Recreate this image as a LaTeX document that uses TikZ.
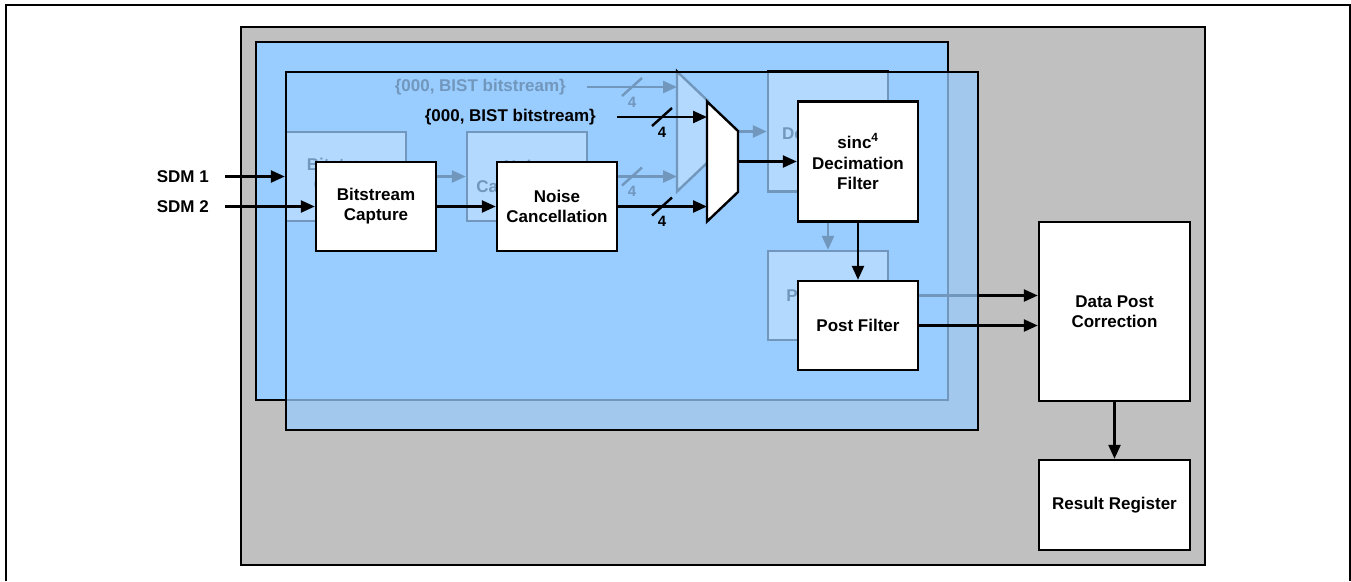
\documentclass[tikz,border=0pt]{standalone}
\usepackage{fontspec}
\setmainfont{Liberation Sans}
\usetikzlibrary{arrows.meta}
\definecolor{panelblue}{HTML}{99CCFF}
\definecolor{casegray}{HTML}{C0C0C0}

% one copy of the capture / filter chain, names start with #1
\newcommand\filterchain[1]{%
  \node[block] (#1bc) at (376,206.5) {Bitstream\\Capture};
  \node[block] (#1nc) at (557,206.5) {Noise\\Cancellation};
  \node[block, minimum height=120pt] (#1dec) at (858,161.5) {sinc\textsuperscript{4}\\[1pt]Decimation\\Filter};
  \node[block] (#1pf) at (858,325.5) {Post Filter};
  \draw[fill=white] (707,101.5) -- (738,131) -- (738,192) -- (707,221.5) -- cycle;
  \coordinate (#1muxa) at (707,117);
  \coordinate (#1muxb) at (707,206.5);
  \coordinate (#1muxo) at (738,161.5);
  \node[anchor=east, inner sep=0pt] (#1bist) at (597,117) {\{000, BIST bitstream\}};
  \coordinate (#1bisto) at (617,117);
  \draw[->] (#1bc) -- (#1nc);
  \draw[->] (#1bisto) -- (#1muxa);
  \draw[->] (#1nc) -- (#1muxb);
  \draw[->] (#1muxo) -- (#1dec);
  \draw[->] (#1dec) -- (#1pf);
  \foreach \y/\n in {117/a, 206.5/b} {
    \draw (652,\y+9) -- (672,\y-9);
    \node[buswidth] (#1w\n) at (662,\y+15) {4};
  }
}

\begin{document}
\begin{tikzpicture}[x=1pt, y=-1pt, line width=2.4pt,
    >={Triangle[length=14pt, width=12pt]},
    font=\fontsize{17}{20}\selectfont\bfseries,
    block/.style={draw, fill=white, align=center, minimum width=120pt, minimum height=89pt, inner sep=2pt},
    buswidth/.style={font=\fontsize{15}{15}\selectfont\bfseries, inner sep=0pt}]
  \useasboundingbox (0,0) rectangle (1351,581);
  \draw (6,581) -- (6,5) -- (1350,5) -- (1350,581);
  \draw[fill=casegray] (241,27) rectangle (1205,565);

  \node[block, minimum width=151pt, minimum height=179pt] (dpc) at (1114.5,311.5) {Data Post\\Correction};
  \node[block, minimum width=151pt, minimum height=90pt] (rr) at (1114.5,505) {Result Register};
  \draw[->] (dpc) -- (rr);

  % back channel
  \draw[fill=panelblue] (256,42) rectangle (948,400);
  \begin{scope}[shift={(-30,-30)}]
    \filterchain{b}
  \end{scope}
  \draw[->] (bpf.east) -- (bpf.east -| dpc.west);

  % front channel
  \draw[fill=panelblue, fill opacity=0.74] (286,72) rectangle (978,430);
  \filterchain{f}
  \draw[->] (fpf.east) -- (fpf.east -| dpc.west);

  % inputs
  \node[anchor=east, inner sep=0pt] (sdm1) at (210,176.5) {SDM 1};
  \node[anchor=east, inner sep=0pt] (sdm2) at (210,206.5) {SDM 2};
  \draw[->] (sdm1.east) ++(15,0) -- (bbc.west);
  \draw[->] (sdm2.east) ++(15,0) -- (fbc.west);
\end{tikzpicture}
\end{document}
